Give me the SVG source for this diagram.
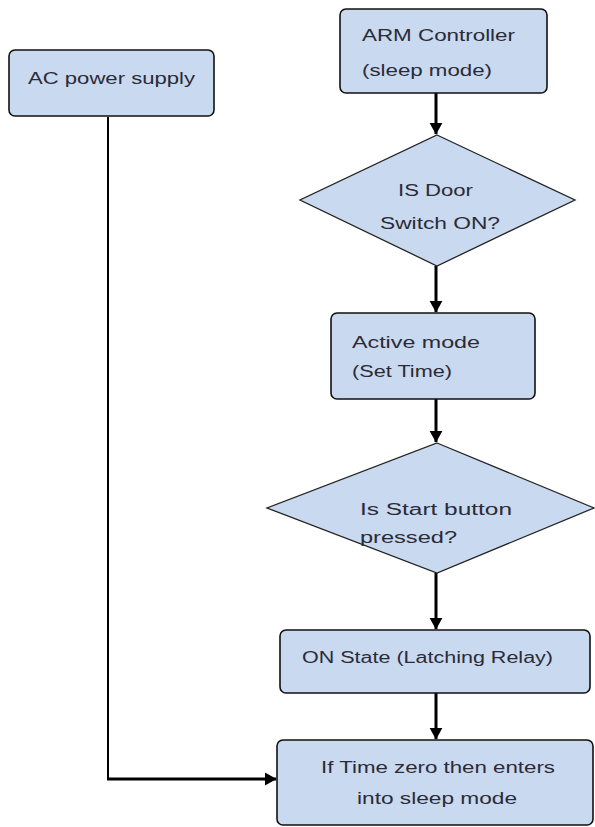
<svg xmlns="http://www.w3.org/2000/svg" width="595" height="827" viewBox="0 0 595 827">
<style>
.box{fill:#c9d9ef;stroke:#111;stroke-width:1.6}
.dia{fill:#c9d9ef;stroke:#222;stroke-width:1.3}
.t{font-family:"Liberation Sans",Arial,sans-serif;font-size:16px;fill:#2b2b38;dominant-baseline:central}
.c{fill:none;stroke:#000;stroke-width:3}
.c2{fill:none;stroke:#000;stroke-width:2}
</style>
<defs>
<marker id="ah" markerWidth="5" markerHeight="5" refX="3.8" refY="2.3" orient="auto" markerUnits="strokeWidth">
<path d="M0,0.1 L4,2.3 L0,4.5 Z" fill="#000"/>
</marker>
</defs>
<rect width="595" height="827" fill="#fff"/>
<g id="connectors">
<line class="c" x1="436" y1="93" x2="436" y2="134" marker-end="url(#ah)"/>
<line class="c" x1="436" y1="266" x2="436" y2="312" marker-end="url(#ah)"/>
<line class="c" x1="436" y1="399" x2="436" y2="442" marker-end="url(#ah)"/>
<line class="c" x1="436" y1="573" x2="436" y2="629" marker-end="url(#ah)"/>
<line class="c" x1="436" y1="693" x2="436" y2="739" marker-end="url(#ah)"/>
<polyline class="c2" points="108,117 108,779"/>
<line class="c" x1="107" y1="779" x2="276" y2="779" marker-end="url(#ah)"/>
</g>
<g id="ac">
<rect class="box" x="9" y="50" width="205" height="66" rx="6"/>
<text class="t" x="28" y="78" textLength="167" lengthAdjust="spacingAndGlyphs">AC power supply</text>
</g>
<g id="arm">
<rect class="box" x="340" y="9" width="207" height="84" rx="6"/>
<text class="t" x="362" y="35" textLength="153" lengthAdjust="spacingAndGlyphs">ARM Controller</text>
<text class="t" x="362" y="70" textLength="130" lengthAdjust="spacingAndGlyphs">(sleep mode)</text>
</g>
<g id="door">
<polygon class="dia" points="437,135 575,200 437,266 300,200"/>
<text class="t" x="398" y="190" textLength="75" lengthAdjust="spacingAndGlyphs">IS Door</text>
<text class="t" x="380" y="223" textLength="120" lengthAdjust="spacingAndGlyphs">Switch ON?</text>
</g>
<g id="active">
<rect class="box" x="331" y="313" width="204" height="86" rx="6"/>
<text class="t" x="352" y="342" textLength="128" lengthAdjust="spacingAndGlyphs">Active  mode</text>
<text class="t" x="352" y="371" textLength="100" lengthAdjust="spacingAndGlyphs">(Set Time)</text>
</g>
<g id="start">
<polygon class="dia" points="437,443 594,508 437,573 267,508"/>
<text class="t" x="360" y="509" textLength="152" lengthAdjust="spacingAndGlyphs">Is Start button</text>
<text class="t" x="360" y="537" textLength="97" lengthAdjust="spacingAndGlyphs">pressed?</text>
</g>
<g id="on">
<rect class="box" x="280" y="630" width="310" height="63" rx="6"/>
<text class="t" x="302" y="657" textLength="251" lengthAdjust="spacingAndGlyphs">ON State (Latching Relay)</text>
</g>
<g id="sleep">
<rect class="box" x="277" y="740" width="316" height="85" rx="6"/>
<text class="t" x="321" y="767" textLength="234" lengthAdjust="spacingAndGlyphs">If Time zero then  enters</text>
<text class="t" x="357" y="798" textLength="160" lengthAdjust="spacingAndGlyphs">into sleep mode</text>
</g>
</svg>
